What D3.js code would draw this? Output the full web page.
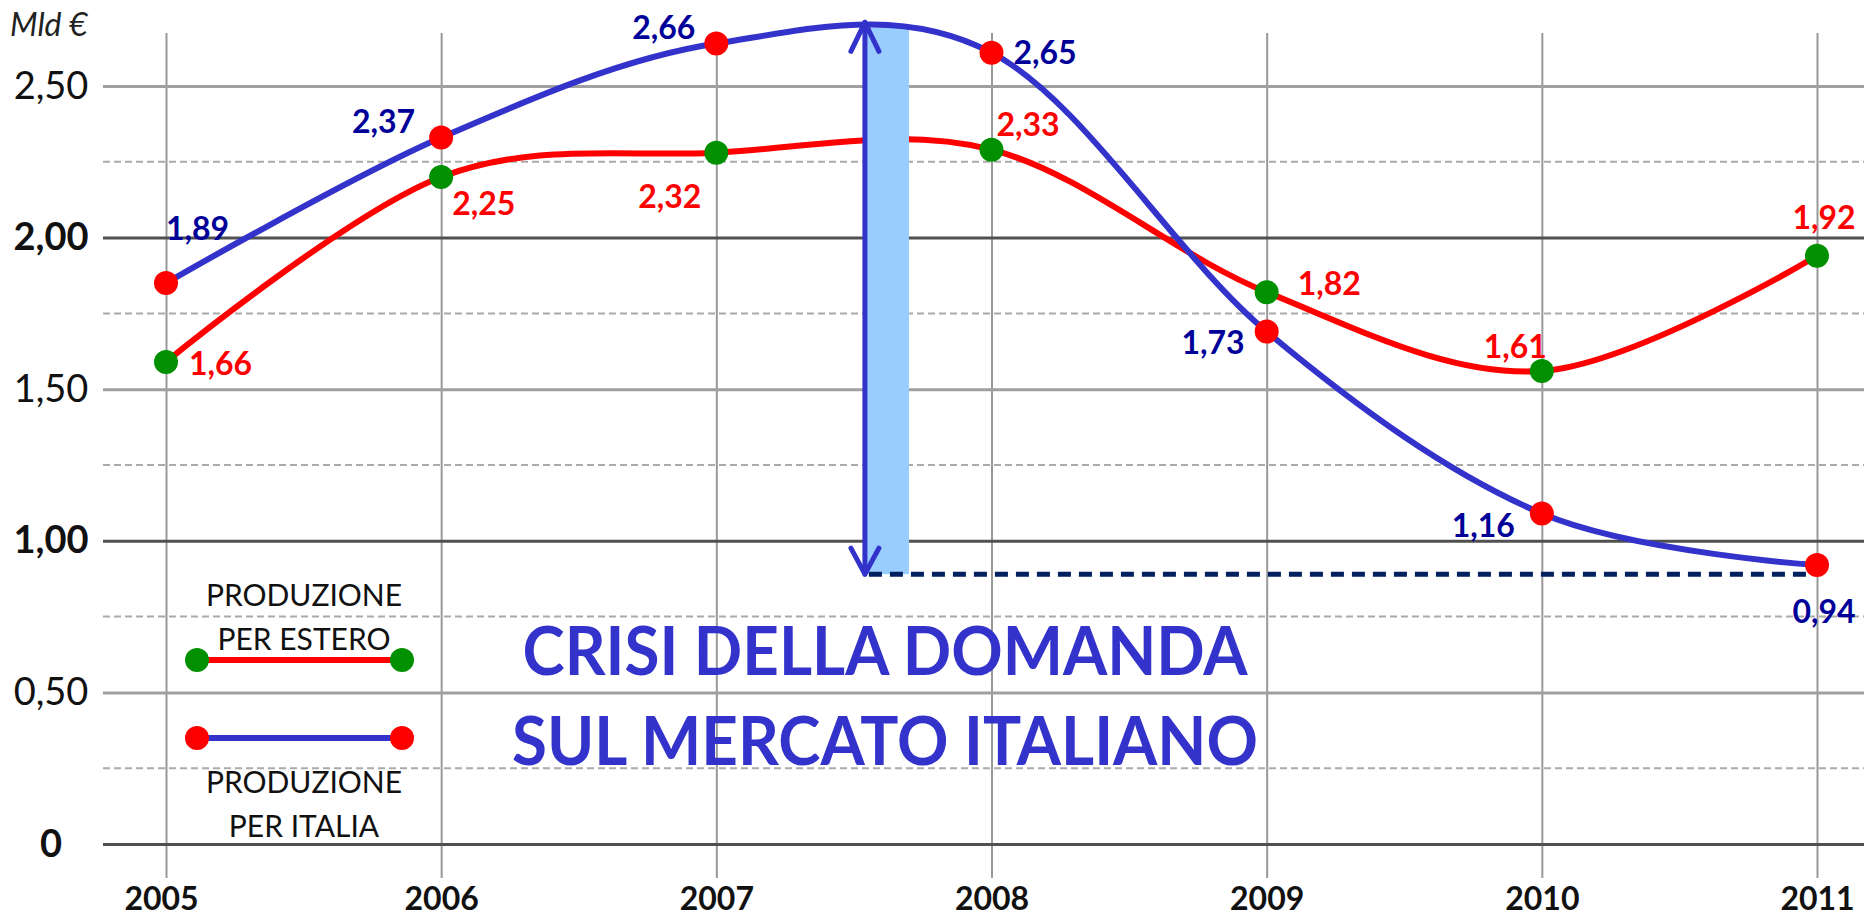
<!DOCTYPE html>
<html>
<head>
<meta charset="utf-8">
<script src="https://cdn.jsdelivr.net/npm/d3@7"></script>
<style>
  body { margin: 0; background: #fff; }
  svg { display: block; font-family: Lato, "Open Sans", sans-serif; }
</style>
</head>
<body>
<div id="chart"></div>
<script>
// values (dot positions) and the printed labels
const years = [2005, 2006, 2007, 2008, 2009, 2010, 2011];
const italia = [1.85, 2.33, 2.64, 2.61, 1.69, 1.09, 0.92];
const estero = [1.59, 2.20, 2.28, 2.29, 1.82, 1.56, 1.94];
const italiaLabels = ["1,89", "2,37", "2,66", "2,65", "1,73", "1,16", "0,94"];
const esteroLabels = ["1,66", "2,25", "2,32", "2,33", "1,82", "1,61", "1,92"];
const yTicks = [0, 0.5, 1, 1.5, 2, 2.5];
const yTickLabels = ["0", "0,50", "1,00", "1,50", "2,00", "2,50"];
const yMinor = [0.25, 0.75, 1.25, 1.75, 2.25];
const legendNames = [["PRODUZIONE", "PER ESTERO"], ["PRODUZIONE", "PER ITALIA"]];
const noteLines = ["CRISI DELLA DOMANDA", "SUL MERCATO ITALIANO"];
// the "crisis" gap: arrow from the peak of the blue curve down to the 2011 level
const crisiX0 = 2007.54, crisiX1 = 2007.70, crisiTop = 2.71, crisiBottom = 0.89;

window.addEventListener('load', makeChart);

function makeChart(){
  let width = 1864;
  let height = 917;

  let x = d3.scaleLinear().domain([2005, 2011]).range([166, 1817]);
  let y = d3.scaleLinear().domain([0, 2.5]).range([844, 86]);

  const svg = d3.select("#chart")
      .append("svg")
      .attr("width", width)
      .attr("height", height);

  // label placement [anchor, dx, dy] relative to each dot
  let italiaPos = [["start", 0, -54], ["end", -26, -16], ["end", -21, -16], ["start", 22, 0],
                   ["end", -22, 11], ["end", -27, 12], ["middle", 7, 47]];
  let esteroPos = [["start", 23, 2], ["start", 11, 27], ["end", -15, 44], ["start", 5, -25],
                   ["start", 31, -8], ["end", 5, -24], ["middle", 7, -38]];

  // dashed quarter grid
  svg.append("g")
    .selectAll("line")
    .data(yMinor)
    .join("line")
      .attr("x1", 103).attr("x2", width)
      .attr("y1", d => y(d)).attr("y2", d => y(d))
      .attr("stroke", "#aaa")
      .attr("stroke-width", 2)
      .attr("stroke-dasharray", "7,4");

  // vertical grid + year labels
  const xAxis = svg.append("g")
      .attr("transform", "translate(0,878)")
      .call(d3.axisBottom(x).tickValues(years).tickSize(-(878 - 33)).tickFormat(d3.format("d")))
      .attr("font-family", null)
      .attr("font-size", 32);
  xAxis.select(".domain").remove();
  xAxis.selectAll(".tick line").attr("stroke", "#999").attr("stroke-width", 2);
  xAxis.selectAll(".tick text")
      .attr("y", 32).attr("dy", 0)
      .attr("dx", d => d === 2005 ? -5 : 0)
      .attr("font-weight", "bold")
      .attr("fill", "#111");

  // horizontal grid + value labels
  const yAxis = svg.append("g")
      .attr("transform", "translate(103,0)")
      .call(d3.axisLeft(y).tickValues(yTicks).tickSize(-(width - 103))
        .tickFormat(d => yTickLabels[yTicks.indexOf(d)]))
      .attr("font-family", null)
      .attr("font-size", 38);
  yAxis.select(".domain").remove();
  yAxis.selectAll(".tick line")
      .attr("stroke", d => d % 1 === 0 ? "#505050" : "#a0a0a0")
      .attr("stroke-width", 3);
  yAxis.selectAll(".tick text")
      .attr("x", -52)
      .attr("text-anchor", "middle")
      .attr("font-weight", d => d % 1 === 0 ? "bold" : "normal")
      .attr("fill", "#111");

  svg.append("text")
      .attr("x", 10).attr("y", 36)
      .attr("font-size", 32)
      .attr("font-style", "italic")
      .attr("fill", "#222")
      .text("Mld €");

  const line = d3.line()
      .x((d, i) => x(years[i]))
      .y(d => y(d))
      .curve(d3.curveCatmullRom.alpha(0));

  svg.append("path")
      .datum(estero)
      .attr("fill", "none")
      .attr("stroke", "#ff0000")
      .attr("stroke-width", 6)
      .attr("d", line);

  // light blue band covers the red line and the grid
  svg.append("rect")
      .attr("x", x(crisiX0))
      .attr("y", y(crisiTop) + 5)
      .attr("width", x(crisiX1) - x(crisiX0))
      .attr("height", y(crisiBottom) - y(crisiTop) - 5)
      .attr("fill", "#99ccff");

  svg.append("path")
      .datum(italia)
      .attr("fill", "none")
      .attr("stroke", "#3333cc")
      .attr("stroke-width", 6)
      .attr("d", line);

  // double arrow
  let ax = x(crisiX0), aTop = y(crisiTop), aBot = y(crisiBottom);
  const arrow = svg.append("g")
      .attr("fill", "none")
      .attr("stroke", "#3333cc")
      .attr("stroke-width", 5)
      .attr("stroke-linecap", "round")
      .attr("stroke-linejoin", "round");
  arrow.append("line").attr("x1", ax).attr("x2", ax).attr("y1", aTop).attr("y2", aBot);
  arrow.append("path").attr("d", `M${ax - 14},${aTop + 29}L${ax},${aTop}L${ax + 14},${aTop + 29}`);
  arrow.append("path").attr("d", `M${ax - 14},${aBot - 26}L${ax},${aBot}L${ax + 14},${aBot - 26}`);

  svg.append("line")
      .attr("x1", ax + 4).attr("x2", x(2011) - 8)
      .attr("y1", aBot).attr("y2", aBot)
      .attr("stroke", "#002060")
      .attr("stroke-width", 5)
      .attr("stroke-dasharray", "13,8");

  // dots
  svg.append("g")
    .selectAll("circle")
    .data(estero)
    .join("circle")
      .attr("cx", (d, i) => x(years[i]))
      .attr("cy", d => y(d))
      .attr("r", 12)
      .attr("fill", "#009000");

  svg.append("g")
    .selectAll("circle")
    .data(italia)
    .join("circle")
      .attr("cx", (d, i) => x(years[i]))
      .attr("cy", d => y(d))
      .attr("r", 12)
      .attr("fill", "#ff0000");

  // value labels
  function labels(values, texts, pos, color){
    svg.append("g")
        .attr("font-size", 32)
        .attr("font-weight", "bold")
        .attr("fill", color)
      .selectAll("text")
      .data(values)
      .join("text")
        .attr("x", (d, i) => x(years[i]) + pos[i][1])
        .attr("y", (d, i) => y(d) + pos[i][2])
        .attr("dy", "0.35em")
        .attr("text-anchor", (d, i) => pos[i][0])
        .text((d, i) => texts[i]);
  }
  labels(estero, esteroLabels, esteroPos, "#ff0000");
  labels(italia, italiaLabels, italiaPos, "#000099");

  // legend
  let legendColors = [["#ff0000", "#009000"], ["#3333cc", "#ff0000"]];
  let legendY = [660, 738];
  let textY = [[606, 650], [793, 837]];
  const legend = svg.append("g")
    .selectAll("g")
    .data(legendNames)
    .join("g");
  legend.append("line")
      .attr("x1", 197).attr("x2", 402)
      .attr("y1", (d, i) => legendY[i]).attr("y2", (d, i) => legendY[i])
      .attr("stroke", (d, i) => legendColors[i][0])
      .attr("stroke-width", 6);
  legend.each(function(d, i){
    d3.select(this).selectAll("circle")
      .data([197, 402])
      .join("circle")
        .attr("cx", c => c)
        .attr("cy", legendY[i])
        .attr("r", 12)
        .attr("fill", legendColors[i][1]);
    d3.select(this).selectAll("text")
      .data(d)
      .join("text")
        .attr("x", 304)
        .attr("y", (t, j) => textY[i][j])
        .attr("text-anchor", "middle")
        .attr("font-size", 30)
        .attr("fill", "#111")
        .text(t => t);
  });

  // big note
  svg.append("g")
      .attr("font-size", 66)
      .attr("font-weight", "bold")
      .attr("fill", "#3333cc")
    .selectAll("text")
    .data(noteLines)
    .join("text")
      .attr("x", 885)
      .attr("y", (d, i) => [675, 765][i])
      .attr("text-anchor", "middle")
      .attr("textLength", (d, i) => [725, 746][i])
      .attr("lengthAdjust", "spacingAndGlyphs")
      .text(d => d);
}
</script>
</body>
</html>
